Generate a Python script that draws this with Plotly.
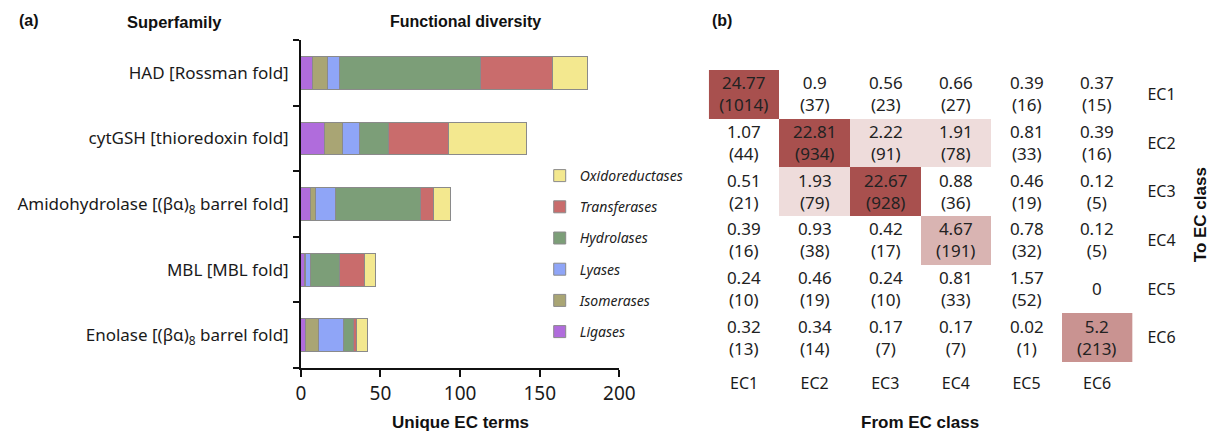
import plotly.graph_objects as go

# ---------------- Panel (a) data ----------------
superfamilies = [
    "HAD [Rossman fold]",
    "cytGSH [thioredoxin fold]",
    "Amidohydrolase [(βα)<sub>8</sub> barrel fold]",
    "MBL [MBL fold]",
    "Enolase [(βα)<sub>8</sub> barrel fold]",
]
ligases = [7, 15, 6, 2, 3]
isomerases = [10, 11, 3, 1, 8]
lyases = [7, 11, 13, 3, 16]
hydrolases = [89, 18, 53, 18, 6]
transferases = [45, 38, 8, 16, 2]
oxidoreductases = [22, 49, 11, 7, 7]

x_ticks = [0, 50, 100, 150, 200]

series = [
    ("Ligases", ligases, "#B06CDC"),
    ("Isomerases", isomerases, "#A9A574"),
    ("Lyases", lyases, "#8FA5F7"),
    ("Hydrolases", hydrolases, "#7C9E78"),
    ("Transferases", transferases, "#C96C6C"),
    ("Oxidoreductases", oxidoreductases, "#F3E88F"),
]

# ---------------- Panel (b) data ----------------
ec_classes = ["EC1", "EC2", "EC3", "EC4", "EC5", "EC6"]
# rows = To EC class, columns = From EC class
percent = [
    [24.77, 0.9, 0.56, 0.66, 0.39, 0.37],
    [1.07, 22.81, 2.22, 1.91, 0.81, 0.39],
    [0.51, 1.93, 22.67, 0.88, 0.46, 0.12],
    [0.39, 0.93, 0.42, 4.67, 0.78, 0.12],
    [0.24, 0.46, 0.24, 0.81, 1.57, 0],
    [0.32, 0.34, 0.17, 0.17, 0.02, 5.2],
]
counts = [
    [1014, 37, 23, 27, 16, 15],
    [44, 934, 91, 78, 33, 16],
    [21, 79, 928, 36, 19, 5],
    [16, 38, 17, 191, 32, 5],
    [10, 19, 10, 33, 52, ""],
    [13, 14, 7, 7, 1, 213],
]

W, H = 1230, 433
FONT_A = "Liberation Sans, Arial, sans-serif"
FONT_B = "Noto Sans, Liberation Sans, sans-serif"

fig = go.Figure()

n = len(series)
for i, (name, vals, col) in enumerate(series):
    fig.add_trace(go.Bar(
        y=superfamilies, x=vals, name=name, orientation="h",
        marker=dict(color=col, line=dict(color="#8a8a8a", width=1)),
        width=0.5, xaxis="x", yaxis="y", legendrank=n - i, legendgroup=name,
    ))

text = [[(f"{p}<br>({c})" if c != "" else f"{p}") for p, c in zip(pr, cr)]
        for pr, cr in zip(percent, counts)]

zmax = 25.0
cscale = [
    [0.0, "#FFFFFF"],
    [1.6 / zmax, "#FFFFFF"],
    [1.85 / zmax, "#EEDCDB"],
    [2.3 / zmax, "#EEDCDB"],
    [4.67 / zmax, "#D9B4B2"],
    [5.2 / zmax, "#C99391"],
    [22.6 / zmax, "#A8504E"],
    [1.0, "#A8504E"],
]

fig.add_trace(go.Heatmap(
    z=percent, x=ec_classes, y=ec_classes, text=text,
    texttemplate="%{text}", textfont=dict(size=17, color="#222222", family=FONT_B),
    colorscale=cscale, zmin=0, zmax=zmax, showscale=False, xgap=0, ygap=0,
    xaxis="x2", yaxis="y2", hoverinfo="skip", showlegend=False,
))

fig.update_layout(
    width=W, height=H,
    margin=dict(l=0, r=0, t=0, b=0),
    paper_bgcolor="white", plot_bgcolor="white",
    barmode="stack",
    font=dict(family=FONT_A, color="#1a1a1a"),
    showlegend=True,
    legend=dict(
        x=544 / W, y=1 - 160 / H, xanchor="left", yanchor="top",
        traceorder="grouped", tracegroupgap=10, itemwidth=30,
        font=dict(size=14, style="italic", family=FONT_B, color="#222"),
        bgcolor="rgba(0,0,0,0)",
    ),
    xaxis=dict(
        domain=[301 / W, 625 / W], range=[0, 200], tickvals=x_ticks,
        showline=True, linecolor="#111", linewidth=1.5,
        ticks="outside", ticklen=7, tickwidth=1.5, tickcolor="#111",
        showgrid=False, zeroline=False, tickfont=dict(size=19, family=FONT_B),
        anchor="y",
    ),
    yaxis=dict(
        domain=[1 - 368 / H, 1 - 40 / H], type="category",
        categoryorder="array", categoryarray=superfamilies[::-1],
        tickson="boundaries", ticks="outside", ticklen=6, tickwidth=1.5, tickcolor="#111",
        showline=True, linecolor="#111", linewidth=1.5, showgrid=False,
        tickfont=dict(size=17, family=FONT_B), ticklabelstandoff=7,
        anchor="x",
    ),
    xaxis2=dict(
        domain=[716 / W, 1147 / W], range=[-0.5, 5.5], showline=False, showgrid=False,
        zeroline=False, ticks="", tickfont=dict(size=16, family=FONT_B),
        ticklabelstandoff=10, anchor="y2", side="bottom",
    ),
    yaxis2=dict(
        domain=[1 - 362 / H, 1 - 70 / H], range=[5.5, -0.5], showline=False, showgrid=False,
        zeroline=False, ticks="", side="right", tickfont=dict(size=16, family=FONT_B),
        ticklabelstandoff=14, anchor="x2",
    ),
)

ann = [
    dict(text="<b>(a)</b>", x=12 / W, y=1 - 21 / H, size=16, xanchor="left"),
    dict(text="<b>Superfamily</b>", x=172 / W, y=1 - 22 / H, size=16.5, xanchor="center"),
    dict(text="<b>Functional diversity</b>", x=469 / W, y=1 - 22 / H, size=16, xanchor="center"),
    dict(text="<b>Unique EC terms</b>", x=463 / W, y=1 - 422 / H, size=17, xanchor="center"),
    dict(text="<b>(b)</b>", x=717 / W, y=1 - 21 / H, size=16, xanchor="left"),
    dict(text="<b>From EC class</b>", x=931 / W, y=1 - 422 / H, size=17, xanchor="center"),
]
for a in ann:
    fig.add_annotation(
        text=a["text"], x=a["x"], y=a["y"], xref="paper", yref="paper",
        xanchor=a["xanchor"], yanchor="middle", showarrow=False,
        font=dict(size=a["size"], family=FONT_A, color="#111"),
    )
fig.add_annotation(
    text="<b>To EC class</b>", x=1216 / W, y=1 - 215 / H, xref="paper", yref="paper",
    xanchor="center", yanchor="middle", showarrow=False, textangle=-90,
    font=dict(size=17, family=FONT_A, color="#111"),
)

fig.write_html(
    "out.html",
    config={"displayModeBar": False},
    post_script="document.body.style.margin='0';",
)
